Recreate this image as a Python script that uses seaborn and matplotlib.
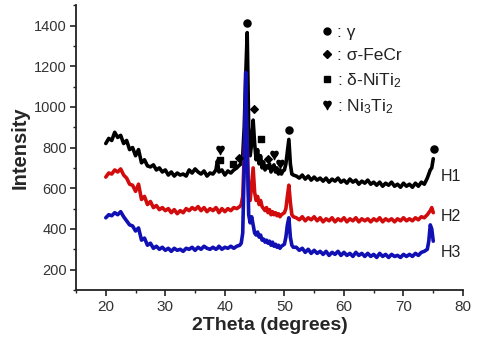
import numpy as np
import pandas as pd
import matplotlib
matplotlib.use("Agg")
import matplotlib.pyplot as plt
from matplotlib.lines import Line2D
from matplotlib.ticker import MultipleLocator
import seaborn as sns

# ---------------- data ----------------
two_theta = [
    20.0, 20.5, 21.0, 21.5, 22.0, 22.5, 23.0, 23.5, 24.0, 24.5,
    25.0, 25.5, 26.0, 26.5, 27.0, 27.5, 28.0, 28.5, 29.0, 29.5,
    30.0, 30.5, 31.0, 31.5, 32.0, 32.5, 33.0, 33.5, 34.0, 34.5,
    35.0, 35.5, 36.0, 36.5, 37.0, 37.5, 38.0, 38.5, 38.75, 39.0,
    39.5, 40.0, 40.5, 41.0, 41.5, 42.0, 42.5,
    42.75, 43.0, 43.25, 43.5, 43.75, 44.0, 44.25, 44.5, 44.75, 45.0,
    45.25, 45.5, 45.75, 46.0, 46.25, 46.5, 46.75, 47.0, 47.25, 47.5,
    47.75, 48.0, 48.25, 48.5, 48.75, 49.0, 49.25, 49.5, 49.75, 50.0,
    50.25, 50.5, 50.75, 51.0, 51.25, 51.5,
    52.0, 52.5, 53.0, 53.5, 54.0, 54.5, 55.0, 55.5, 56.0, 56.5,
    57.0, 57.5, 58.0, 58.5, 59.0, 59.5, 60.0, 60.5, 61.0, 61.5,
    62.0, 62.5, 63.0, 63.5, 64.0, 64.5, 65.0, 65.5, 66.0, 66.5,
    67.0, 67.5, 68.0, 68.5, 69.0, 69.5, 70.0, 70.5, 71.0, 71.5,
    72.0, 72.5, 73.0, 73.5,
    74.0, 74.25, 74.5, 74.75, 75.0,
]

h1 = [
    820, 845, 835, 875, 850, 860, 820, 835, 790, 800,
    760, 790, 725, 740, 710, 705, 715, 690, 700, 680,
    690, 665, 680, 660, 675, 665, 670, 660, 690, 675,
    695, 680, 670, 685, 660, 675, 670, 690, 735, 680,
    690, 665, 685, 675, 690, 700, 715,
    720, 760, 900, 1150, 1365, 900, 760, 820, 935, 820,
    740, 790, 720, 760, 700, 730, 690, 710, 700, 720,
    680, 700, 715, 680, 700, 670, 690, 670, 685, 690,
    720, 780, 840, 720, 670, 665,
    660, 650, 665, 645, 660, 640, 655, 640, 650, 635,
    650, 630, 645, 635, 650, 630, 640, 625, 645, 630,
    640, 620, 635, 625, 640, 620, 630, 615, 630, 610,
    625, 615, 630, 610, 620, 605, 625, 610, 620, 605,
    625, 610, 630, 620,
    650, 670, 690, 700, 745,
]

h2 = [
    655, 675, 670, 690, 680, 695, 665, 650, 620, 615,
    585, 620, 545, 560, 520, 535, 505, 515, 495, 505,
    490, 500, 480, 495, 475, 490, 480, 500, 490, 505,
    495, 510, 490, 505, 485, 500, 490, 505, 495, 480,
    500, 485, 500, 490, 505, 500, 510,
    520, 560, 760, 1000, 820, 560, 540, 620, 700, 580,
    540, 560, 520, 540, 510, 500, 490, 505, 480, 495,
    470, 485, 470, 480, 465, 475, 460, 470, 475, 480,
    500, 560, 615, 530, 470, 460,
    455, 445, 460, 440, 455, 445, 460, 440, 455, 435,
    450, 440, 455, 435, 450, 440, 455, 435, 450, 440,
    455, 435, 450, 440, 450, 435, 450, 440, 455, 435,
    450, 440, 450, 435, 450, 440, 455, 440, 450, 440,
    455, 445, 460, 455,
    470, 480, 490, 505, 480,
]

h3 = [
    455, 470, 465, 480, 470, 485, 460, 440, 420, 415,
    390, 405, 345, 355, 320, 330, 305, 315, 300, 310,
    295, 305, 290, 305, 295, 300, 290, 305, 300, 310,
    295, 310, 300, 315, 305, 300, 310, 300, 305, 315,
    300, 310, 305, 315, 305, 315, 320,
    330, 380, 700, 1170, 800, 470, 430, 460, 420, 380,
    370, 385, 360, 370, 345, 350, 335, 345, 330, 340,
    320, 335, 315, 325, 310, 320, 305, 315, 320, 325,
    360, 420, 455, 360, 320, 310,
    310, 295, 305, 285, 300, 280, 295, 280, 290, 275,
    290, 270, 285, 275, 290, 270, 285, 270, 280, 265,
    285, 270, 280, 265, 280, 265, 275, 260, 280, 265,
    275, 260, 275, 265, 270, 260, 275, 265, 275, 265,
    280, 270, 285, 290,
    300, 340, 420, 400, 340,
]

series_names = ["H1", "H2", "H3"]
series_colors = ["#000000", "#d20c0c", "#1010b4"]
label_y = [657, 460, 283]

# phase marker positions (2theta, intensity)
gamma_x, gamma_y = [43.8, 50.85, 75.1], [1410, 888, 795]
sigma_x, sigma_y = [42.3, 44.9, 47.2], [750, 992, 745]
delta_x, delta_y = [39.2, 41.3, 46.0], [741, 721, 844]
heart_x, heart_y = [39.2, 48.2, 49.2], [790, 765, 721]

phase_labels = [": \u03b3", ": \u03c3-FeCr", ": \u03b4-NiTi$_2$", ": Ni$_3$Ti$_2$"]

# ---------------- plotting ----------------
sns.set_theme(style="ticks")
plt.rcParams["font.family"] = ["Liberation Sans", "DejaVu Sans"]
plt.rcParams["mathtext.fontset"] = "custom"
plt.rcParams["mathtext.rm"] = "Liberation Sans"
plt.rcParams["mathtext.it"] = "Liberation Sans:italic"

fig = plt.figure(figsize=(4.92, 3.44), dpi=100)
ax = fig.add_axes([0.1545, 0.157, 0.7866, 0.828])

for name, vals, col in zip(series_names, [h1, h2, h3], series_colors):
    df = pd.DataFrame({"x": two_theta, "y": vals})
    sns.lineplot(data=df, x="x", y="y", ax=ax, color=col, lw=2.6,
                 sort=False, estimator=None, legend=False)

heart = "$\u2665$"
ax.scatter(gamma_x, gamma_y, marker="o", s=26, color="black", zorder=5)
ax.scatter(sigma_x, sigma_y, marker="D", s=15, color="black", zorder=5)
ax.scatter(delta_x, delta_y, marker="s", s=20, color="black", zorder=5)
ax.scatter(heart_x, heart_y, marker=heart, s=36, color="black", zorder=5)

for name, yy in zip(series_names, label_y):
    ax.text(76.3, yy, name, fontsize=11.5, color="#222222", va="center", ha="left")

handles = [
    Line2D([], [], ls="none", marker="o", ms=5.0, color="black"),
    Line2D([], [], ls="none", marker="D", ms=3.8, color="black"),
    Line2D([], [], ls="none", marker="s", ms=4.4, color="black"),
    Line2D([], [], ls="none", marker=heart, ms=6, color="black"),
]
ax.legend(handles, phase_labels, loc="upper left", bbox_to_anchor=(0.634, 0.93),
          frameon=False, fontsize=12.5, handlelength=0.6, handletextpad=0.3,
          labelspacing=0.45, borderpad=0, borderaxespad=0, labelcolor="#222222")

ax.set_xlim(15, 80)
ax.set_ylim(100, 1500)
ax.xaxis.set_major_locator(MultipleLocator(10))
ax.xaxis.set_minor_locator(MultipleLocator(5))
ax.set_yticks([200, 400, 600, 800, 1000, 1200, 1400])
ax.yaxis.set_minor_locator(MultipleLocator(100))
ax.set_xlabel("2Theta (degrees)", fontsize=14, fontweight="bold", labelpad=2)
ax.set_ylabel("Intensity", fontsize=14.5, fontweight="bold", labelpad=3)

sns.despine(ax=ax)
for sp in ["left", "bottom"]:
    ax.spines[sp].set_linewidth(1.3)
    ax.spines[sp].set_color("#222222")
ax.tick_params(axis="both", which="major", direction="out", length=4.5, width=1.2,
               color="#222222", labelcolor="#333333")
ax.tick_params(axis="both", which="minor", direction="out", length=2.5, width=1.0,
               color="#222222")
ax.tick_params(axis="x", labelsize=11, pad=3)
ax.tick_params(axis="y", labelsize=10.5, pad=2)
ax.set_facecolor("white")
fig.patch.set_facecolor("white")

fig.savefig("out.png", dpi=100)
